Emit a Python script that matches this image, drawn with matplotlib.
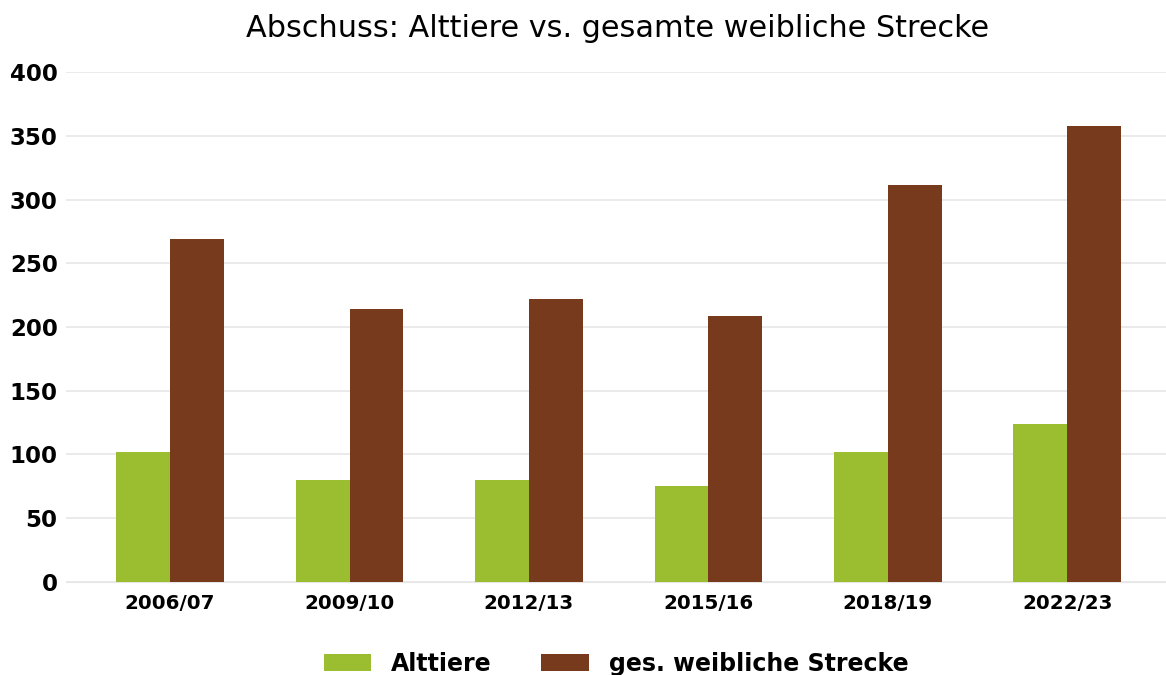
import numpy as np
import matplotlib
matplotlib.use('Agg')
import matplotlib.pyplot as plt

#datos
jahre = ['2006/07', '2009/10', '2012/13', '2015/16', '2018/19', '2022/23']
alttiere = [102, 80, 80, 75, 102, 124]
weibliche_strecke = [269, 214, 222, 209, 311, 358]

plt.rcParams['font.family'] = 'DejaVu Sans'

fig = plt.figure(figsize=(11.66, 6.75), dpi=100)
ax = fig.add_axes([0.0566, 0.1378, 0.9434, 0.7555])

x = np.arange(len(jahre))
ancho = 0.3
ax.bar(x - ancho/2, alttiere, ancho, color='#9BBE31', label='Alttiere', zorder=3)
ax.bar(x + ancho/2, weibliche_strecke, ancho, color='#773A1D', label='ges. weibliche Strecke', zorder=3)

ax.set_xlim(-0.58, 5.55)
ax.set_ylim(0, 400)
ax.set_yticks(range(0, 401, 50))
ax.set_xticks(x)
ax.set_xticklabels(jahre, fontsize=14.3, fontweight='bold')
for lbl in ax.get_yticklabels():
    lbl.set_fontsize(16.5)
    lbl.set_fontweight('bold')
ax.tick_params(axis='both', length=0)
ax.tick_params(axis='y', pad=6)
ax.tick_params(axis='x', pad=9)

ax.grid(axis='y', color='#e6e6e6', linewidth=1.2, zorder=0)
for s in ['top', 'right', 'left']:
    ax.spines[s].set_visible(False)
ax.spines['bottom'].set_color('#e6e6e6')

fig.text(0.530, 0.958, 'Abschuss: Alttiere vs. gesamte weibliche Strecke', ha='center', va='center', fontsize=21.8)

leg = ax.legend(loc='center', bbox_to_anchor=(0.5, -0.16), ncol=2, frameon=False,
                prop={'size': 17, 'weight': 'bold'}, handlelength=2.0, handleheight=0.7,
                columnspacing=2.1, handletextpad=0.85)

plt.savefig('out.png', dpi=100)
